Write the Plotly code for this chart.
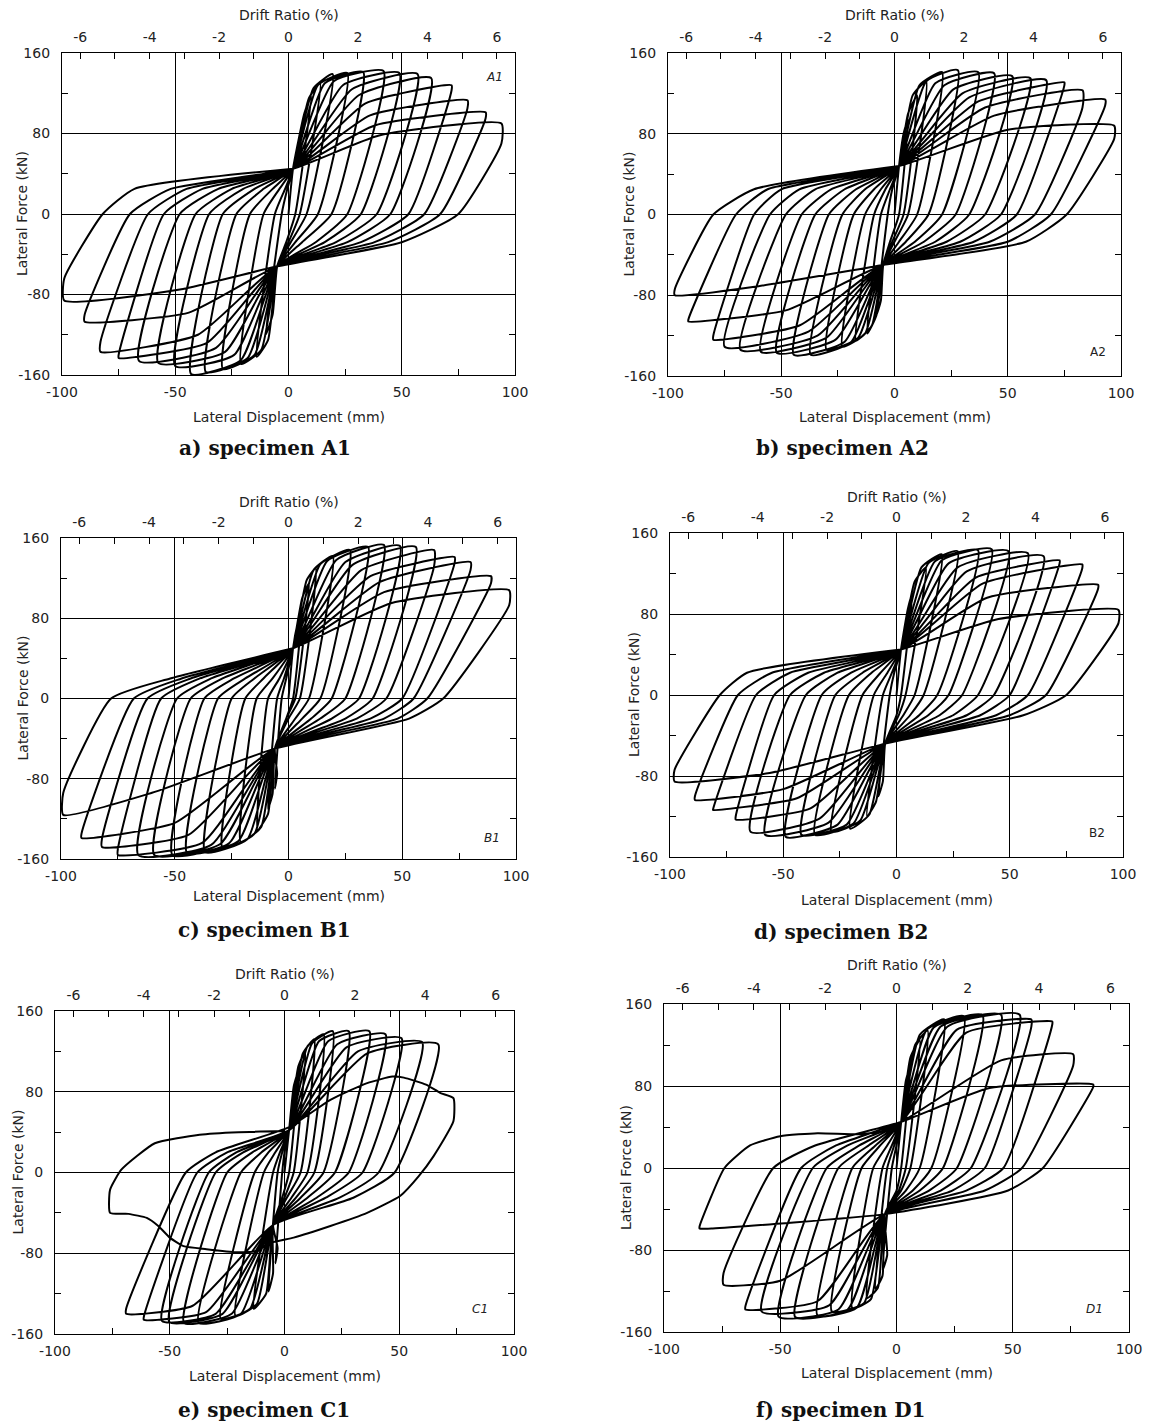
import plotly.graph_objects as go

W, H = 1150, 1424

# ---------------- data ----------------
# For every cycle: loading knee (disp, force), plateau end (disp, force), force after drop,
# zero crossing on unloading, shoulder displacement on the way to the pinch point.

# ---- A1 ----
A1_pos_knee_d = [7, 9, 11, 13, 16, 20, 24, 28, 31, 34, 36, 38, 40]
A1_pos_knee_f = [100, 115, 125, 128, 130, 132, 128, 124, 118, 110, 98, 88, 78]
A1_pos_disp = [10, 14, 19.5, 26, 33, 42, 49, 57, 63, 72, 79, 87, 94]
A1_pos_force = [118, 130, 139, 140, 141, 142, 140, 139, 135, 128, 113, 101, 90]
A1_pos_end = [118, 130, 139, 140, 141, 142, 140, 139, 135, 123, 105, 95, 70]
A1_pos_zero = [3, 5, 8, 13, 19, 26, 32, 39, 45, 53, 60, 67, 75]
A1_pos_shoulder = [-1, 0, 1, 3, 6, 12, 16, 21, 26, 32, 38, 44, 50]
A1_neg_knee_d = [-7, -9, -12, -15, -18, -21, -24, -28, -32, -36, -40, -44, -48]
A1_neg_knee_f = [-100, -125, -135, -140, -143, -145, -140, -137, -133, -128, -120, -98, -75]
A1_neg_disp = [-10, -14, -21, -29, -36.5, -43, -50, -57.5, -66, -75, -83, -90, -99]
A1_neg_force = [-120, -142, -149, -154, -157, -159, -151, -148, -146, -143, -137, -107, -86]
A1_neg_end = [-120, -142, -149, -154, -157, -159, -151, -148, -146, -140, -127, -100, -64]
A1_neg_zero = [-3, -6, -11, -17, -23, -29, -35, -41, -48, -55, -62, -70, -82]
A1_neg_shoulder = [-0.5, -1.5, -4, -7, -11, -15, -20, -25, -31, -38, -45, -52, -68]
A1_pinch = [2, 45, -5, -52]
A1_shoulder_f = [-28, 25]
A1_tail_x = [2]
A1_tail_y = [45]

# ---- A2 ----
A2_pos_knee_d = [4, 6, 8, 11, 14, 18, 22, 26, 30, 33, 37, 40, 44, 50]
A2_pos_knee_f = [80, 100, 118, 128, 132, 130, 128, 124, 120, 116, 112, 106, 98, 84]
A2_pos_disp = [6, 10, 14, 21, 28, 37, 44, 52, 60, 67, 75, 83, 93, 97]
A2_pos_force = [95, 118, 132, 141, 143, 141, 140, 137, 135, 133, 131, 123, 114, 88]
A2_pos_end = [95, 118, 132, 141, 143, 141, 140, 137, 135, 133, 128, 106, 108, 75]
A2_pos_zero = [2, 4, 6, 10, 15, 21, 27, 33, 40, 47, 54, 62, 69, 76]
A2_pos_shoulder = [-2, -1, 0, 2, 5, 9, 13, 18, 23, 29, 35, 42, 50, 58]
A2_neg_knee_d = [-6, -8, -10, -13, -16, -19, -22, -26, -30, -34, -38, -42, -48, -60]
A2_neg_knee_f = [-85, -100, -110, -118, -122, -126, -126, -124, -122, -120, -116, -110, -95, -71]
A2_neg_disp = [-8, -12, -17, -23, -30, -37, -44.5, -52, -59, -68, -75, -80, -91, -97]
A2_neg_force = [-100, -118, -125, -131, -134, -139, -139, -137, -136, -134, -131, -124, -106, -80]
A2_neg_end = [-100, -118, -125, -131, -134, -139, -139, -137, -136, -134, -131, -120, -104, -74]
A2_neg_zero = [-3, -6, -9, -13, -18, -23, -29, -35, -41, -48, -55, -62, -70, -80]
A2_neg_shoulder = [-1, -2, -4, -6, -9, -13, -17, -22, -28, -35, -42, -50, -56, -62]
A2_pinch = [2, 48, -5, -50]
A2_shoulder_f = [-27, 25]
A2_tail_x = [2]
A2_tail_y = [48]

# ---- B1 ----
B1_pos_knee_d = [4, 6, 8, 11, 14, 17, 21, 25, 28, 32, 36, 40, 42, 45]
B1_pos_knee_f = [75, 100, 118, 128, 134, 137, 138, 136, 133, 128, 122, 116, 106, 95]
B1_pos_disp = [6, 9, 12, 19.5, 27, 35, 42, 49, 56, 64, 73, 80, 89, 97]
B1_pos_force = [90, 115, 130, 142, 148, 151, 153, 152, 151, 148, 141, 136, 122, 108]
B1_pos_end = [90, 115, 130, 142, 148, 151, 153, 152, 151, 132, 135, 128, 115, 93]
B1_pos_zero = [2, 3, 5, 9, 14, 19, 25, 31, 37, 43, 50, 55, 61, 68]
B1_pos_shoulder = [-1, -1, 0, 3, 6, 10, 14, 19, 25, 30, 36, 42, 48, 53]
B1_neg_knee_d = [-5, -7, -9, -12, -15, -18, -22, -26, -30, -34, -38, -44, -50, -60]
B1_neg_knee_f = [-75, -95, -115, -128, -135, -140, -142, -144, -145, -146, -144, -136, -124, -94]
B1_neg_disp = [-6, -9, -13.6, -21, -29, -36.7, -44.6, -51, -59, -66, -75, -82, -91, -99]
B1_neg_force = [-90, -110, -131, -143, -149, -153, -154, -156, -156, -156, -156, -148, -139, -116]
B1_neg_end = [-90, -110, -131, -143, -149, -153, -154, -156, -156, -156, -150, -140, -135, -94]
B1_neg_zero = [-3, -5, -9, -14, -19, -25, -31, -37, -43, -49, -56, -62, -68, -78]
B1_neg_shoulder = [-1, -2, -4, -7, -11, -15, -19, -24, -29, -34, -39, -43, -47, -52]
B1_pinch = [2, 50, -6, -50]
B1_shoulder_f = [-20, 20]
B1_tail_x = [2]
B1_tail_y = [50]

# ---- B2 ----
B2_pos_knee_d = [5, 8, 11, 14, 17, 20, 23, 27, 31, 35, 38, 40, 45]
B2_pos_knee_f = [85, 112, 126, 130, 132, 133, 130, 126, 122, 116, 110, 96, 75]
B2_pos_disp = [7, 13, 20, 27, 36, 42, 49.5, 58, 65, 72, 82, 89, 98]
B2_pos_force = [100, 126, 139, 142, 143, 144, 142, 140, 137, 133, 129, 109, 84]
B2_pos_end = [100, 126, 139, 142, 143, 144, 142, 140, 137, 130, 125, 105, 71]
B2_pos_zero = [2, 4, 8, 12, 18, 23, 29, 36, 43, 50, 58, 66, 75]
B2_pos_shoulder = [0, 1, 3, 6, 10, 14, 19, 25, 31, 37, 44, 50, 56]
B2_neg_knee_d = [-6, -9, -12, -16, -19, -22, -26, -30, -34, -38, -44, -50, -56]
B2_neg_knee_f = [-85, -105, -118, -124, -127, -128, -128, -126, -122, -112, -102, -93, -77]
B2_neg_disp = [-8, -13, -20.5, -28.7, -36, -42, -49, -58, -64.5, -71, -81, -89, -98]
B2_neg_force = [-100, -120, -132, -135, -138, -138, -140, -138, -135, -123, -113.5, -103.6, -85.5]
B2_neg_end = [-100, -120, -132, -135, -138, -138, -140, -138, -135, -120, -113, -100, -74]
B2_neg_zero = [-3, -6, -10, -15, -21, -27, -33, -40, -47, -54, -62, -70, -78]
B2_neg_shoulder = [-1, -2, -4, -7, -11, -15, -20, -26, -32, -39, -47, -55, -66]
B2_pinch = [2, 45, -5, -48]
B2_shoulder_f = [-20, 22]
B2_tail_x = [2]
B2_tail_y = [45]

# ---- C1 ----
C1_pos_knee_d = [4, 6, 8, 10, 12, 15, 19, 23, 27, 32, 36]
C1_pos_knee_f = [85, 105, 118, 125, 128, 130, 130, 127, 124, 120, 118]
C1_pos_disp = [6, 9, 13, 17, 21, 28, 37, 44, 51, 60, 67]
C1_pos_force = [100, 120, 132, 137, 140, 140, 140, 137, 133, 129, 127]
C1_pos_end = [100, 120, 132, 137, 140, 140, 140, 137, 133, 129, 127]
C1_pos_zero = [2, 4, 7, 10, 13, 17, 22, 28, 34, 41, 48]
C1_pos_shoulder = [-1, 0, 1, 3, 5, 7, 10, 14, 18, 24, 30]
C1_neg_knee_d = [-3, -5, -8, -12, -15, -19, -23, -27, -30, -34, -40]
C1_neg_knee_f = [-75, -100, -120, -130, -135, -140, -140, -140, -140, -138, -132]
C1_neg_disp = [-4, -7, -13.4, -21.4, -27.8, -37.4, -43.8, -50.2, -53.4, -61.3, -69]
C1_neg_force = [-90, -118, -135, -142, -145, -149, -149, -148, -147, -146, -140]
C1_neg_end = [-90, -118, -135, -142, -145, -149, -149, -148, -147, -143, -135]
C1_neg_zero = [-1, -3, -5, -9, -13, -19, -25, -30, -33, -38, -43]
C1_neg_shoulder = [0, -1, -2, -4, -7, -10, -14, -18, -21, -25, -30]
C1_pinch = [2, 42, -5, -52]
C1_shoulder_f = [-25, 20]
C1_tail_x = [2, 20, 36, 47, 52, 61.7, 68, 73.6, 73.6, 64.9, 58.5, 50.5, 36, 20, 4, -5, -13, -21,
             -34, -44, -50, -55, -60, -68, -76, -76, -71, -56.5, -37, -20, 0]
C1_tail_y = [45, 72, 88.6, 95, 94, 87, 78.7, 73.7, 50.7, 16, -3.6, -23, -40, -53, -64.5, -69, -78, -79,
             -76, -73, -64.5, -53, -45, -41, -40, -17, 3, 29, 37.5, 40, 41]

# ---- D1 ----
D1_pos_knee_d = [4, 6, 8, 10, 13, 16, 19, 22, 26, 30, 45, 40]
D1_pos_knee_f = [85, 108, 120, 130, 135, 137, 138, 138, 135, 132, 105, 78]
D1_pos_disp = [6, 10, 13.4, 20.5, 29, 37, 45, 53, 58, 67, 76, 84.6]
D1_pos_force = [100, 125, 134, 145, 148, 149, 149.5, 149.5, 145, 143, 111, 81.5]
D1_pos_end = [100, 125, 134, 145, 148, 149, 149.5, 149.5, 138, 140, 100, 79]
D1_pos_zero = [2, 4, 6, 10, 15, 20, 26, 32, 38, 46, 54, 63]
D1_pos_shoulder = [0, 1, 2, 4, 7, 10, 14, 19, 24, 30, 38, 48]
D1_neg_knee_d = [-4, -6, -8, -11, -14, -17, -21, -25, -29, -34, -50, -79]
D1_neg_knee_f = [-85, -105, -117, -128, -132, -136, -138, -138, -134, -130, -110, -59]
D1_neg_disp = [-6, -9, -12.7, -19, -27.8, -34, -43.6, -50.7, -58, -65, -74.4, -84.7]
D1_neg_force = [-100, -118, -127, -137, -140, -144, -145.4, -145, -140, -138, -114, -59]
D1_neg_end = [-100, -118, -127, -137, -140, -144, -145.4, -145, -140, -135, -102.6, -57]
D1_neg_zero = [-2, -4, -6, -10, -15, -19, -25, -30, -36, -41, -53, -74]
D1_neg_shoulder = [0, -1, -2, -4, -7, -9, -12, -16, -21, -26, -35, -63]
D1_pinch = [2, 45, -5, -45]
D1_shoulder_f = [-22, 22]
D1_tail_x = [-50, -34, -15, 0]
D1_tail_y = [31, 34, 33, 38]

X_TICKS = [-100, -50, 0, 50, 100]
X_LABELS = ["-100", "-50", "0", "50", "100"]
Y_TICKS = [-160, -80, 0, 80, 160]
Y_LABELS = ["-160", "-80", "0", "80", "160"]
DRIFT_TICKS = [-6, -4, -2, 0, 2, 4, 6]
DRIFT_LABELS = ["-6", "-4", "-2", "0", "2", "4", "6"]
STORY_HEIGHT_MM = 1533  # drift ratio = displacement / height

# ---------------- layout of the six panels (pixels) ----------------
PANELS = [
    dict(tag="A1", sub="a) specimen A1", box=(62, 515, 53, 375), ytitle_x=22,
         drift_y=15, xtitle_y=417, sub_y=448, sub_x=265, lab=(91, 136), ital=True),
    dict(tag="A2", sub="b) specimen A2", box=(668, 1121, 53, 376), ytitle_x=629,
         drift_y=15, xtitle_y=417, sub_y=448, sub_x=842, lab=(90, -136), ital=False),
    dict(tag="B1", sub="c) specimen B1", box=(61, 516, 538, 859), ytitle_x=22,
         drift_y=502, xtitle_y=896, sub_y=930, sub_x=264, lab=(89.5, -139), ital=True),
    dict(tag="B2", sub="d) specimen B2", box=(670, 1123, 533, 857), ytitle_x=634,
         drift_y=497, xtitle_y=900, sub_y=932, sub_x=841, lab=(88.6, -136), ital=False),
    dict(tag="C1", sub="e) specimen C1", box=(55, 514, 1011, 1334), ytitle_x=17,
         drift_y=974, xtitle_y=1376, sub_y=1410, sub_x=264, lab=(85, -135), ital=True),
    dict(tag="D1", sub="f) specimen D1", box=(664, 1129, 1004, 1332), ytitle_x=626,
         drift_y=965, xtitle_y=1373, sub_y=1410, sub_x=840, lab=(85.3, -138), ital=True),
]

G = globals()


def build_path(tag):
    g = lambda n: G[f"{tag}_{n}"]
    pxp, pyp, pxn, pyn = g("pinch")
    shp, shn = g("shoulder_f")
    xs, ys = [0], [0]

    def add(x, y):
        if xs[-1] != x or ys[-1] != y:
            xs.append(x)
            ys.append(y)

    for i in range(len(g("pos_disp"))):
        add(pxp, pyp)
        add(g("pos_knee_d")[i], g("pos_knee_f")[i])
        add(g("pos_disp")[i], g("pos_force")[i])
        add(g("pos_disp")[i], g("pos_end")[i])
        add(g("pos_zero")[i], 0)
        add(g("pos_shoulder")[i], shp)
        add(pxn, pyn)
        add(g("neg_knee_d")[i], g("neg_knee_f")[i])
        add(g("neg_disp")[i], g("neg_force")[i])
        add(g("neg_disp")[i], g("neg_end")[i])
        add(g("neg_zero")[i], 0)
        add(g("neg_shoulder")[i], shn)
    for x, y in zip(g("tail_x"), g("tail_y")):
        add(x, y)
    return xs, ys


fig = go.Figure()
TXT = "#222222"
FONT = "DejaVu Sans"
annotations = []
layout = dict()
drift_lim = 100.0 / STORY_HEIGHT_MM * 100.0

for k, p in enumerate(PANELS):
    x0, x1, y0, y1 = p["box"]
    xd = [x0 / W, x1 / W]
    yd = [1 - y1 / H, 1 - y0 / H]
    xb = f"x{2 * k + 1}"
    xt = f"x{2 * k + 2}"
    yy = f"y{k + 1}"
    xb_key = "xaxis" if k == 0 else f"xaxis{2 * k + 1}"
    xt_key = f"xaxis{2 * k + 2}"
    y_key = "yaxis" if k == 0 else f"yaxis{k + 1}"

    common_tick = dict(ticks="inside", ticklen=6, tickwidth=1, tickcolor="black",
                       tickfont=dict(family=FONT, size=14, color=TXT),
                       showline=True, linecolor="black", linewidth=1.3, zeroline=False,
                       fixedrange=True, automargin=False)
    layout[xb_key] = dict(domain=xd, anchor=yy, range=[-100, 100], tickvals=X_TICKS,
                          ticktext=X_LABELS,
                          showgrid=True, gridcolor="black", gridwidth=1,
                          minor=dict(dtick=25, tick0=0, ticks="inside", ticklen=6,
                                     tickcolor="black", showgrid=False),
                          ticklabelstandoff=4, **common_tick)
    layout[xt_key] = dict(domain=xd, anchor=yy, overlaying=xb, side="top",
                          range=[-drift_lim, drift_lim], tickvals=DRIFT_TICKS,
                          ticktext=DRIFT_LABELS, showgrid=False,
                          minor=dict(dtick=1, tick0=0, ticks="inside", ticklen=6,
                                     tickcolor="black", showgrid=False),
                          ticklabelstandoff=4, **common_tick)
    layout[y_key] = dict(domain=yd, anchor=xb, range=[-160, 160], tickvals=Y_TICKS,
                         ticktext=Y_LABELS,
                         showgrid=True, gridcolor="black", gridwidth=1, mirror="allticks",
                         minor=dict(dtick=40, tick0=0, ticks="inside", ticklen=6,
                                    tickcolor="black", showgrid=False),
                         ticklabelstandoff=8, **common_tick)

    xs, ys = build_path(p["tag"])
    fig.add_trace(go.Scatter(x=xs, y=ys, xaxis=xb, yaxis=yy, mode="lines",
                             line=dict(color="black", width=2.0, shape="spline", smoothing=0.5),
                             hoverinfo="skip", showlegend=False))
    # invisible trace so that the drift-ratio axis is drawn
    fig.add_trace(go.Scatter(x=[0], y=[0], xaxis=xt, yaxis=yy, mode="markers",
                             marker=dict(opacity=0), hoverinfo="skip", showlegend=False))

    cx = (x0 + x1) / 2
    cy = (y0 + y1) / 2
    annotations += [
        dict(text="Drift Ratio (%)", x=cx / W, y=1 - p["drift_y"] / H, xref="paper", yref="paper",
             showarrow=False, xanchor="center", yanchor="middle",
             font=dict(family=FONT, size=14, color=TXT)),
        dict(text="Lateral Displacement (mm)", x=cx / W, y=1 - p["xtitle_y"] / H, xref="paper",
             yref="paper", showarrow=False, xanchor="center", yanchor="middle",
             font=dict(family=FONT, size=14, color=TXT)),
        dict(text="Lateral Force (kN)", x=p["ytitle_x"] / W, y=1 - cy / H, xref="paper", yref="paper",
             showarrow=False, xanchor="center", yanchor="middle", textangle=-90,
             font=dict(family=FONT, size=14, color=TXT)),
        dict(text=f"<b>{p['sub']}</b>", x=p["sub_x"] / W, y=1 - p["sub_y"] / H, xref="paper",
             yref="paper", showarrow=False, xanchor="center", yanchor="middle",
             font=dict(family="DejaVu Serif", size=20, color="#111111")),
        dict(text=(f"<i>{p['tag']}</i>" if p["ital"] else p["tag"]), x=p["lab"][0], y=p["lab"][1],
             xref=xb, yref=yy, showarrow=False, xanchor="center", yanchor="middle",
             font=dict(family=FONT, size=12, color=TXT)),
    ]

fig.update_layout(width=W, height=H,
                  margin=dict(l=0, r=0, t=0, b=0, pad=0, autoexpand=False),
                  paper_bgcolor="white", plot_bgcolor="white", showlegend=False,
                  hovermode=False, annotations=annotations, **layout)

fig.write_html("out.html", config={"displayModeBar": False},
               post_script="document.body.style.margin='0px';document.body.style.overflow='hidden';")
